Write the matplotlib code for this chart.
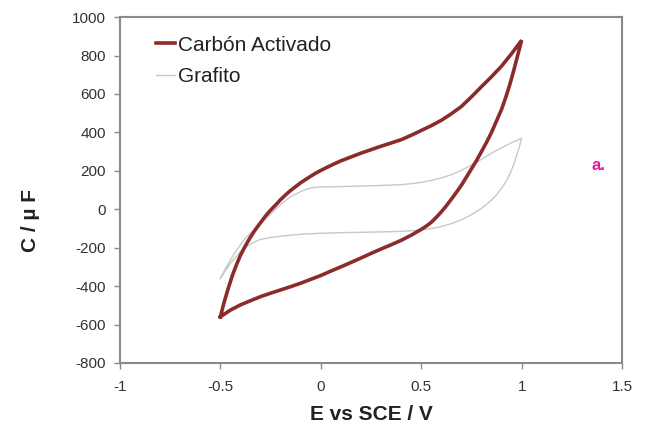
import numpy as np
import matplotlib.pyplot as plt

plt.rcParams['font.family'] = ['Liberation Sans', 'DejaVu Sans']
plt.rcParams['axes.unicode_minus'] = False

# Carbon activado: barrido anodico (-0.5 -> 1.0)
e_up_ca = [-0.5, -0.48, -0.46, -0.44, -0.42, -0.4, -0.375, -0.35, -0.325, -0.3,
           -0.275, -0.25, -0.225, -0.2, -0.175, -0.15, -0.125, -0.1, -0.075,
           -0.05, -0.025, 0.0, 0.05, 0.1, 0.15, 0.2, 0.25, 0.3, 0.35, 0.4,
           0.45, 0.5, 0.55, 0.6, 0.65, 0.7, 0.75, 0.8, 0.85, 0.9, 0.95, 1.0]
c_up_ca = [-560, -480, -410, -345, -290, -240, -190, -145, -105, -70,
           -35, -5, 22, 50, 75, 98, 118, 138, 155,
           172, 188, 202, 228, 252, 272, 292, 310, 328, 345, 362,
           385, 410, 435, 463, 497, 535, 585, 638, 690, 745, 810, 880]
# barrido catodico (1.0 -> -0.5)
e_dn_ca = [1.0, 0.98, 0.96, 0.94, 0.92, 0.9, 0.875, 0.85, 0.825, 0.8, 0.775,
           0.75, 0.725, 0.7, 0.675, 0.65, 0.625, 0.6, 0.575, 0.55, 0.525, 0.5,
           0.45, 0.4, 0.35, 0.3, 0.25, 0.2, 0.15, 0.1, 0.05, 0.0, -0.05, -0.1,
           -0.15, -0.2, -0.25, -0.3, -0.35, -0.4, -0.45, -0.5]
c_dn_ca = [880, 800, 720, 645, 580, 520, 460, 400, 348, 300, 253,
           210, 167, 125, 88, 52, 18, -14, -42, -68, -88, -105,
           -135, -162, -185, -207, -230, -254, -277, -300, -322, -345, -365, -385,
           -403, -420, -437, -455, -476, -498, -525, -560]

# Grafito
e_up_gr = [-0.5, -0.475, -0.45, -0.425, -0.4, -0.375, -0.35, -0.3, -0.25, -0.2,
           -0.15, -0.1, -0.075, -0.05, -0.025, 0.0, 0.1, 0.2, 0.3, 0.35, 0.4,
           0.45, 0.5, 0.55, 0.6, 0.65, 0.7, 0.75, 0.8, 0.85, 0.9, 0.95, 0.98, 1.0]
c_up_gr = [-360, -310, -265, -222, -185, -152, -125, -75, -25, 25,
           65, 92, 103, 110, 114, 116, 118, 121, 124, 126, 128,
           133, 140, 150, 163, 180, 203, 230, 260, 292, 320, 347, 360, 370]
e_dn_gr = [1.0, 0.99, 0.975, 0.96, 0.94, 0.92, 0.9, 0.875, 0.85, 0.825, 0.8,
           0.75, 0.7, 0.65, 0.6, 0.55, 0.5, 0.45, 0.4, 0.3, 0.2, 0.1, 0.0,
           -0.1, -0.2, -0.25, -0.3, -0.325, -0.35, -0.4, -0.45, -0.5]
c_dn_gr = [370, 330, 280, 230, 180, 140, 110, 75, 48, 25, 5,
           -28, -55, -75, -90, -101, -108, -112, -115, -118, -120, -122, -125,
           -130, -140, -147, -157, -168, -182, -220, -282, -360]

fig = plt.figure(figsize=(6.48, 4.29), dpi=100)
ax = fig.add_axes([0.185, 0.154, 0.775, 0.806])

ax.plot(e_up_gr + e_dn_gr, c_up_gr + c_dn_gr, color='#c8c8c8', lw=1.0,
        label='Grafito', zorder=2)
ax.plot(e_up_ca + e_dn_ca, c_up_ca + c_dn_ca, color='#8c2b2b', lw=2.6,
        label='Carbón Activado', zorder=3, solid_joinstyle='miter')

ax.set_xlim(-1, 1.5)
ax.set_ylim(-800, 1000)
ax.set_xticks([-1, -0.5, 0, 0.5, 1, 1.5])
ax.set_xticklabels(['-1', '-0.5', '0', '0.5', '1', '1.5'])
ax.set_yticks(np.arange(-800, 1001, 200))

for s in ax.spines.values():
    s.set_color('#8a8a8a')
    s.set_linewidth(1.5)
ax.tick_params(direction='out', length=4, width=1, color='#8a8a8a',
               labelsize=11, labelcolor='#333333')
ax.tick_params(axis='x', pad=8)
ax.tick_params(axis='y', pad=6)

ax.set_xlabel('E vs SCE / V', fontsize=15, fontweight='bold', color='#222222',
              labelpad=8)
ax.set_ylabel('C / µ F', fontsize=15, fontweight='bold', color='#222222')
ax.yaxis.set_label_coords(-0.159, 0.413)

h, l = ax.get_legend_handles_labels()
ax.legend(h[::-1], l[::-1], loc='upper left', frameon=False, fontsize=15,
          handlelength=0.9, handletextpad=0.15, borderaxespad=0.0,
          labelspacing=0.6, labelcolor='#222222',
          bbox_to_anchor=(0.055, 0.971))

fig.text(0.913, 0.604, 'a.', color='#e0189a', fontsize=12, fontweight='bold',
         va='baseline')

fig.savefig('out.png', dpi=100)
